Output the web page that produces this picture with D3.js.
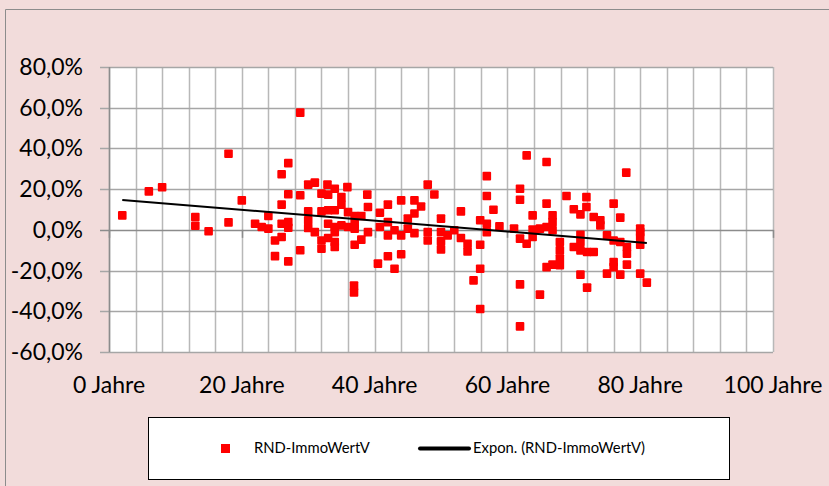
<!DOCTYPE html>
<html>
  <head>
    <meta charset="utf-8" />
    <title>RND-ImmoWertV</title>
    <script src="https://d3js.org/d3.v7.min.js"></script>
    <style>
      body { margin: 0; }
      text { font-family: Lato, "Open Sans", sans-serif; }
    </style>
  </head>
  <body>
    <script>
      // Restnutzungsdauer (Jahre) und Abweichung (%)
      let ages = [
        2, 6, 8, 18, 20, 13, 13, 15, 18, 22, 23, 24, 24, 25, 26, 26, 26, 26, 27, 27, 27, 27, 28.8, 28.8, 25, 27, 28.8,
        30, 31, 30, 30, 30, 31, 32, 32.9, 34, 33, 35.9, 35, 35, 32, 33, 34, 36, 37, 38, 38.9, 39, 33, 34, 35, 36, 34, 37, 37,
        32, 32, 33, 34, 34, 37, 38, 39, 40.5, 36.9, 36.9,
        40.8, 40.8, 42, 42, 42, 42, 43, 44, 44, 44, 43, 45, 45, 46, 46, 46, 47, 48, 49, 48, 48, 50, 50, 50, 50, 51, 52, 53,
        53, 54, 54, 54.9, 56.9, 56.9, 57.9, 55.9, 56.9, 56.9, 55.9, 55.9, 55.9,
        62.9, 65.9, 77.9, 61.9, 61.9, 65.9, 68.9, 71.9, 71.9, 70, 71, 73, 74, 74, 76, 77, 63.8, 66.8, 66.8, 66.8, 65.9,
        64.9, 63.8, 58.8, 61, 61.9, 62.9, 63.8, 67.9, 67.9, 67.9, 67.9, 66.8, 65.9, 71, 71, 70, 71, 72, 73, 75, 77, 78,
        78, 80, 80, 76, 76, 78, 75, 77, 80, 81, 71, 72, 61.9, 64.9, 61.9, 80, 80, 76
      ];
      let values = [
        7.1, 18.9, 20.9, 37.4, 14.5, 6.3, 2.0, -0.7, 3.7, 3.0, 1.4, 6.8, 0.6, -5.2, -3.5, 3.0, 12.4, 27.3, 32.8, 17.5, 3.8, 1.0, 57.6, 17.0, -12.9, -15.5, -10.0,
        22.2, 23.2, 9.1, 4.7, 0.9, -1.1, 17.8, 22.2, 20.2, 17.3, 21.0, 16.1, 12.4, 9.1, 9.6, 9.6, 8.7, 6.8, 6.8, 17.3, 11.2, 3.0, 1.4, 2.2, 1.4, -1.1, 3.0, 0.6,
        -5.2, -9.3, -4.0, -6.0, -8.4, -7.3, -4.8, -1.1, -16.6, -27.3, -30.8,
        8.4, 1.4, 12.4, 3.8, -2.7, -13.0, -19.1, 14.5, -2.7, -12.0, -0.2, 5.5, 0.6, 14.5, 8.0, -1.6, 11.5, 22.2, 17.4, -1.1, -5.2, 5.5, -1.1, -5.6, -9.6, -2.7, -0.2, 9.1,
        -4.0, -6.8, -10.6, -24.8, 26.4, 16.6, 9.9, 4.7, 3.0, -1.1, -7.3, -19.1, -38.9,
        36.6, 33.3, 28.1, 20.2, 14.8, 12.9, 16.6, 16.1, 11.2, 10.1, 7.6, 6.3, 4.7, 2.2, 12.9, 6.0, 7.1, 7.1, 3.8, -0.2, 1.4,
        0.6, 0.1, 1.7, 0.6, -4.3, -6.8, -3.5, -6.0, -10.1, -14.1, -17.4, -17.1, -18.3, -2.4, -6.0, -8.4, -10.1, -10.9, -10.9, -2.7, -6.0, -8.4,
        -11.7, -1.1, -7.3, -15.8, -18.3, -17.1, -21.5, -22.0, -21.5, -25.9, -22.0, -28.4, -26.8, -31.8, -47.4, 0.6, -3.5, -5.2
      ];
      // Trendlinie (Expon.), Anfangs- und Endpunkt
      let trendAges = [2, 81];
      let trendValues = [14.7, -6.4];

      let xTicks = [0, 20, 40, 60, 80, 100];
      let xMinor = d3.range(0, 101, 4);
      let yTicks = [-60, -40, -20, 0, 20, 40, 60, 80];

      let width = 829;
      let height = 486;
      let svg = d3
        .select("body")
        .append("svg")
        .attr("width", width)
        .attr("height", height);

      // chart background + border
      svg.append("rect").attr("width", width).attr("height", height).attr("fill", "#f2dcdb");
      svg.append("line").attr("x1", 5.5).attr("x2", 5.5).attr("y1", 9.5).attr("y2", height)
        .attr("stroke", "#8c8c8c");
      svg.append("line").attr("x1", 5.5).attr("x2", width).attr("y1", 9.5).attr("y2", 9.5)
        .attr("stroke", "#8c8c8c");

      let x = d3.scaleLinear().domain([0, 100]).range([109, 773]);
      let y = d3.scaleLinear().domain([-60, 80]).range([352, 67]);

      // plot area
      svg.append("rect")
        .attr("x", x(0)).attr("y", y(80))
        .attr("width", x(100) - x(0)).attr("height", y(-60) - y(80))
        .attr("fill", "white");

      // vertical gridlines (every 4 years)
      svg.selectAll(".vgrid")
        .data(xMinor)
        .join("line")
        .attr("class", "vgrid")
        .attr("x1", (d) => Math.round(x(d)) + 0.5)
        .attr("x2", (d) => Math.round(x(d)) + 0.5)
        .attr("y1", y(80))
        .attr("y2", y(-60))
        .attr("stroke", "#b8b8b8")
        .attr("stroke-width", 1.5);

      // horizontal gridlines
      svg.selectAll(".hgrid")
        .data(yTicks)
        .join("line")
        .attr("class", "hgrid")
        .attr("x1", x(0) - 9)
        .attr("x2", x(100))
        .attr("y1", (d) => Math.round(y(d)) + 0.5)
        .attr("y2", (d) => Math.round(y(d)) + 0.5)
        .attr("stroke", (d) => (d === 0 ? "#8c8c8c" : "#a6a6a6"))
        .attr("stroke-width", 1.5);

      // y axis line
      svg.append("line")
        .attr("x1", Math.round(x(0)) + 0.5).attr("x2", Math.round(x(0)) + 0.5)
        .attr("y1", y(80)).attr("y2", y(-60))
        .attr("stroke", "#8c8c8c").attr("stroke-width", 1.5);

      // x axis ticks on the 0 line
      svg.selectAll(".xtick")
        .data(xTicks)
        .join("line")
        .attr("class", "xtick")
        .attr("x1", (d) => Math.round(x(d)) + 0.5)
        .attr("x2", (d) => Math.round(x(d)) + 0.5)
        .attr("y1", y(0))
        .attr("y2", y(0) + 8)
        .attr("stroke", "#8c8c8c")
        .attr("stroke-width", 1.5);

      // y labels
      svg.selectAll(".ylabel")
        .data(yTicks)
        .join("text")
        .attr("class", "ylabel")
        .attr("x", 83)
        .attr("y", (d) => y(d) + 8)
        .attr("text-anchor", "end")
        .attr("font-size", 23)
        .attr("fill", "#000")
        .text((d) => d.toFixed(1).replace(".", ",") + "%");

      // x labels
      svg.selectAll(".xlabel")
        .data(xTicks)
        .join("text")
        .attr("class", "xlabel")
        .attr("x", (d) => x(d))
        .attr("y", 393)
        .attr("text-anchor", "middle")
        .attr("font-size", 23)
        .attr("fill", "#000")
        .text((d) => d + " Jahre");

      // points
      let points = ages.map((a, i) => ({ age: a, value: values[i] }));
      let ms = 8.6;
      svg.selectAll(".pt")
        .data(points)
        .join("rect")
        .attr("class", "pt")
        .attr("x", (d) => x(d.age) - ms / 2)
        .attr("y", (d) => y(d.value) - ms / 2)
        .attr("width", ms)
        .attr("height", ms)
        .attr("rx", 1)
        .attr("fill", "#ff0000");

      // trendline
      let line = d3.line().x((d) => x(d[0])).y((d) => y(d[1]));
      svg.append("path")
        .datum(trendAges.map((a, i) => [a, trendValues[i]]))
        .attr("d", line)
        .attr("fill", "none")
        .attr("stroke", "black")
        .attr("stroke-width", 2);

      // legend
      let lg = svg.append("g");
      lg.append("rect")
        .attr("x", 148.5).attr("y", 417.5)
        .attr("width", 581).attr("height", 62)
        .attr("fill", "white").attr("stroke", "black");
      lg.append("rect")
        .attr("x", 221).attr("y", 444)
        .attr("width", 9).attr("height", 9)
        .attr("fill", "#ff0000");
      lg.append("text")
        .attr("x", 254).attr("y", 453)
        .attr("font-size", 14.8)
        .text("RND-ImmoWertV");
      lg.append("line")
        .attr("x1", 420).attr("x2", 469)
        .attr("y1", 448.5).attr("y2", 448.5)
        .attr("stroke", "black").attr("stroke-width", 4)
        .attr("stroke-linecap", "round");
      lg.append("text")
        .attr("x", 473).attr("y", 453)
        .attr("font-size", 14.8)
        .text("Expon. (RND-ImmoWertV)");
    </script>
  </body>
</html>
